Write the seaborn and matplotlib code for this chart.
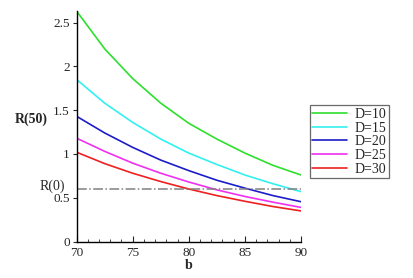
import numpy as np
import pandas as pd
import matplotlib
matplotlib.use("Agg")
import matplotlib.pyplot as plt
import seaborn as sns
from matplotlib.ticker import MultipleLocator

# values
b_vals = [70, 72.5, 75, 77.5, 80, 82.5, 85, 87.5, 90]
r_d10 = [2.63, 2.20, 1.86, 1.58, 1.35, 1.17, 1.01, 0.87, 0.76]
r_d15 = [1.85, 1.58, 1.36, 1.17, 1.01, 0.88, 0.76, 0.66, 0.57]
r_d20 = [1.43, 1.24, 1.075, 0.93, 0.81, 0.70, 0.61, 0.525, 0.455]
r_d25 = [1.18, 1.03, 0.895, 0.78, 0.68, 0.59, 0.515, 0.45, 0.39]
r_d30 = [1.02, 0.89, 0.78, 0.685, 0.60, 0.525, 0.46, 0.40, 0.35]
labels = ["D=10", "D=15", "D=20", "D=25", "D=30"]
r0 = 0.6

colors = ["#2ee02e", "#33f0f0", "#1c1cc8", "#f030f0", "#ee2020"]

df = pd.DataFrame({
    "b": b_vals * 5,
    "R": r_d10 + r_d15 + r_d20 + r_d25 + r_d30,
    "D": [lab for lab in labels for _ in b_vals],
})

sns.set_style("ticks")
plt.rcParams['font.family'] = ['Liberation Serif', 'DejaVu Serif']

fig = plt.figure(figsize=(4.14, 2.78), dpi=100)
ax = fig.add_axes([0.185, 0.131, 0.542, 0.829])

sns.lineplot(data=df, x="b", y="R", hue="D", palette=colors, linewidth=1.2, ax=ax)

# R(0) reference line
ax.plot([70, 90], [r0, r0], color="#808080", linestyle="-.", linewidth=1.1)
ax.text(67.8, r0 + 0.03, "R(0)", fontsize=10, ha="center", va="center", clip_on=False)

ax.set_xlim(70, 90)
ax.set_ylim(0, 2.63)
ax.xaxis.set_major_locator(MultipleLocator(5))
ax.xaxis.set_minor_locator(MultipleLocator(1))
ax.tick_params(axis="x", which="both", direction="in", labelsize=9.5, pad=4)
ax.tick_params(axis="x", which="major", length=4)
ax.tick_params(axis="x", which="minor", length=2)
ax.tick_params(axis="y", direction="out", length=3, labelsize=9.5, pad=2)
ax.set_yticks([0, 0.5, 1, 1.5, 2, 2.5])
ax.set_yticklabels(["0", "0.5", "1", "1.5", "2", "2.5"])

sns.despine(ax=ax)
for s in ["left", "bottom"]:
    ax.spines[s].set_color("black")
    ax.spines[s].set_linewidth(1.0)

ax.set_xlabel("b", fontsize=10, fontweight="bold", labelpad=0)
ax.set_ylabel("R(50)", fontsize=10, fontweight="bold", rotation=0)
ax.yaxis.set_label_coords(-0.2, 0.5)

leg = ax.legend(loc="upper left", bbox_to_anchor=(0.748, 0.622), bbox_transform=fig.transFigure,
                fontsize=10, frameon=True, fancybox=False, handlelength=2.5,
                borderpad=0.2, labelspacing=0.05, handletextpad=0.5, borderaxespad=0)
leg.get_frame().set_edgecolor("#444444")
leg.get_frame().set_linewidth(0.9)

fig.savefig("out.png", dpi=100)
